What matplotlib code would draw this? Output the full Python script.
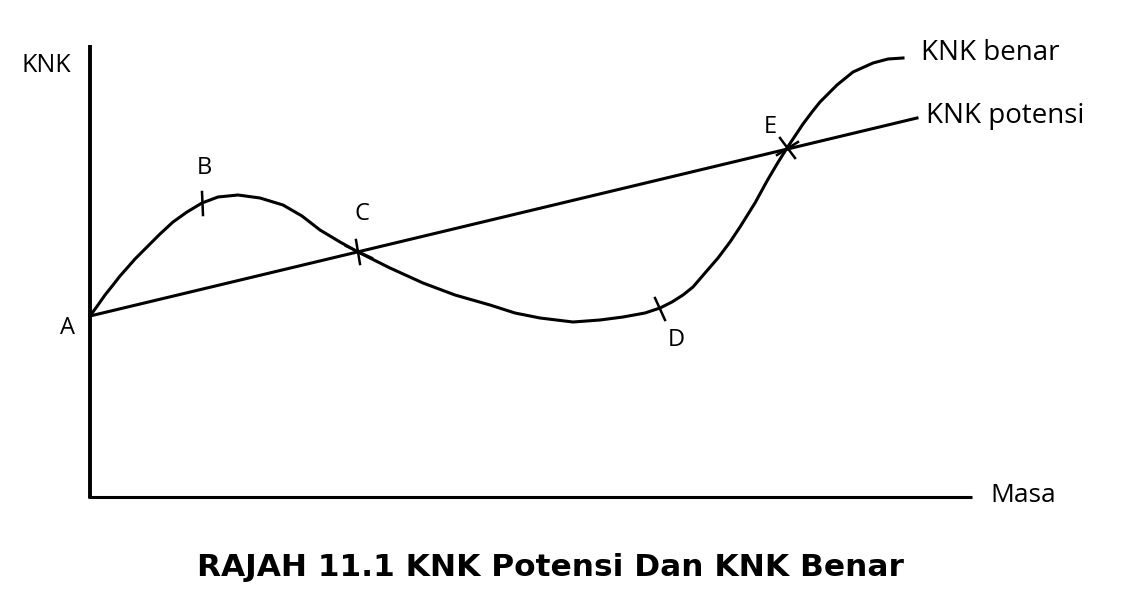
import matplotlib
matplotlib.use("Agg")
import matplotlib.pyplot as plt

# Coordinates (pixel space, y downward)
benar_x = [90, 98, 105, 113, 120, 128, 135, 147, 160, 173, 187, 202, 218, 238, 260, 283, 302, 320,
           340, 358, 390, 423, 455, 490, 515, 540, 573, 600, 623, 645, 660, 672, 683, 693, 705, 718,
           730, 740, 755, 767, 777, 787, 795, 803, 812, 820, 837, 853, 873, 888, 903]
benar_y = [316, 305, 295, 285, 276, 267, 259, 247, 234, 222, 212, 203, 197, 195, 198, 205, 216, 230,
           242, 252, 268, 283, 295, 305, 313, 318, 322, 320, 317, 313, 308, 302, 295, 287, 273, 258,
           242, 227, 203, 181, 164, 148, 136, 124, 112, 102, 85, 72, 63, 59, 58]
potensi_x = [90, 917]
potensi_y = [316, 118]

axis_y_x = [90, 90]
axis_y_y = [45, 498]
axis_x_x = [88, 972]
axis_x_y = [497, 497]

point_names = ["A", "B", "C", "D", "E"]
label_xy = [(68, 328), (204, 168), (362, 214), (676, 340), (770, 127)]

fig = plt.figure(figsize=(11.27, 5.92), dpi=100)
ax = fig.add_axes([0, 0, 1, 1])
ax.set_xlim(0, 1127)
ax.set_ylim(592, 0)
ax.axis("off")

lw = 2.2
ax.plot(axis_y_x, axis_y_y, color="black", lw=2.8, solid_capstyle="butt")
ax.plot(axis_x_x, axis_x_y, color="black", lw=2.2, solid_capstyle="butt")
ax.plot(potensi_x, potensi_y, color="black", lw=lw)
ax.plot(benar_x, benar_y, color="black", lw=lw, solid_joinstyle="round")

# tick marks on the curve
ticks = [((202, 192), (203, 215)), ((356, 240), (360, 264)), ((655, 298), (665, 320)),
         ((780, 138), (795, 158)), ((777, 155), (798, 142)), ((346, 246), (372, 258))]
for (x0, y0), (x1, y1) in ticks:
    ax.plot([x0, x1], [y0, y1], color="black", lw=1.8)

font = "Open Sans"
for name, (lx, ly) in zip(point_names, label_xy):
    ax.text(lx, ly, name, fontsize=17, family=font, ha="center", va="center")

ax.text(46, 66, "KNK", fontsize=18, family=font, ha="center", va="center")
ax.text(921, 53, "KNK benar", fontsize=20, family=font, ha="left", va="center")
ax.text(926, 116, "KNK potensi", fontsize=20, family=font, ha="left", va="center")
ax.text(990, 496, "Masa", fontsize=19, family=font, ha="left", va="center")
ax.text(550, 568, "RAJAH 11.1 KNK Potensi Dan KNK Benar", fontsize=22.5, family="DejaVu Sans",
        weight="bold", ha="center", va="center")

fig.savefig("out.png", dpi=100, facecolor="white")
